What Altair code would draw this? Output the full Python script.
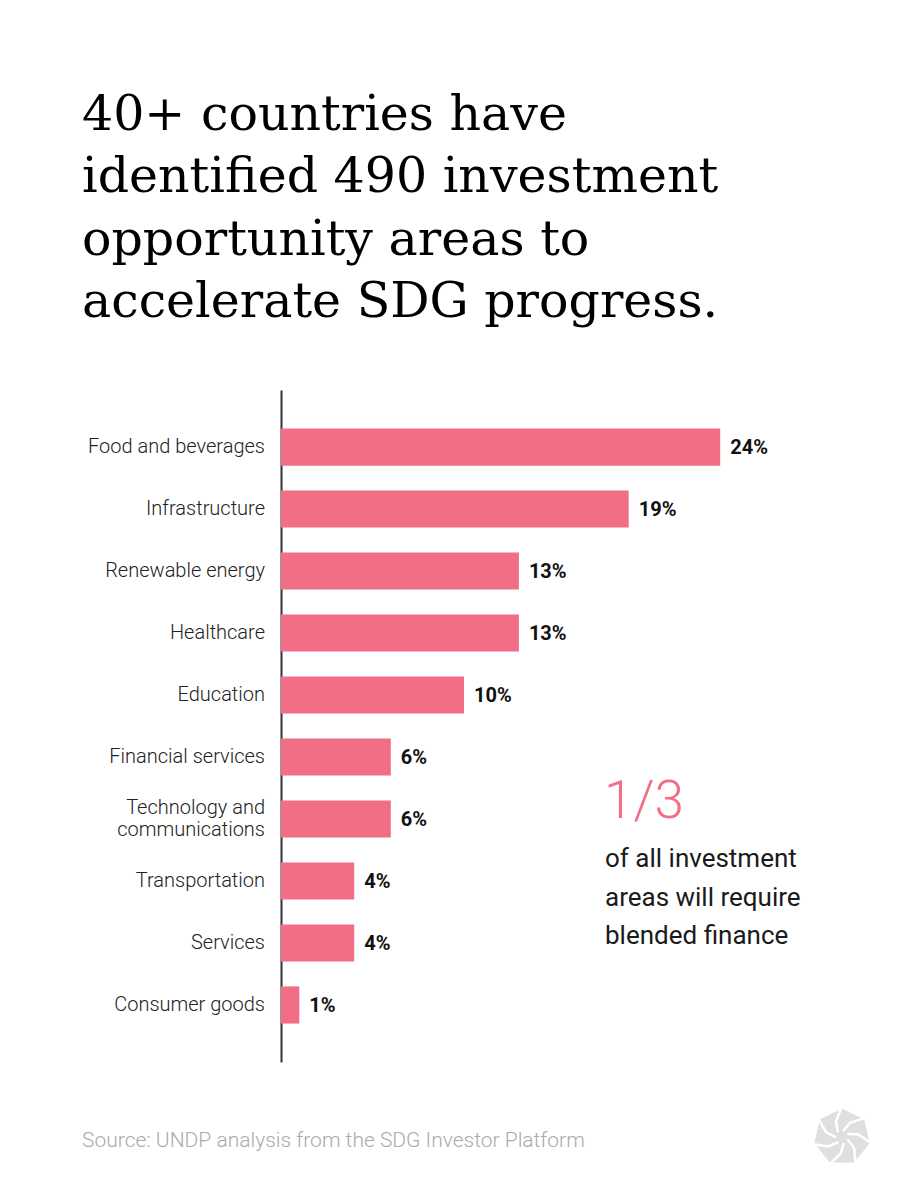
import math
import altair as alt
import pandas as pd

# Share of identified SDG investment opportunity areas, by sector (%)
sectors = [
    "Food and beverages",
    "Infrastructure",
    "Renewable energy",
    "Healthcare",
    "Education",
    "Financial services",
    "Technology and|communications",
    "Transportation",
    "Services",
    "Consumer goods",
]
shares = [24, 19, 13, 13, 10, 6, 6, 4, 4, 1]

title_lines = [
    "40+ countries have",
    "identified 490 investment",
    "opportunity areas to",
    "accelerate SDG progress.",
]
callout_value = "1/3"
callout_lines = ["of all investment", "areas will require", "blended finance"]
source_note = "Source: UNDP analysis from the SDG Investor Platform"

PINK = "#F26E86"
SANS = "Roboto"

df = pd.DataFrame({"sector": sectors, "share": shares})
df["label"] = df["share"].astype(str) + "%"
df["lines"] = df["sector"].str.count(r"\|") + 1

y_enc = alt.Y(
    "sector:N",
    sort=sectors,
    scale=alt.Scale(paddingInner=0.4, paddingOuter=0.62),
    axis=alt.Axis(
        title=None,
        ticks=False,
        labels=False,
        domainColor="#333333",
        domainWidth=2,
    ),
)
x_enc = alt.X("share:Q", scale=alt.Scale(domain=[0, 30]), axis=None)
y_plain = alt.Y("sector:N", sort=sectors)

bars = alt.Chart(df).mark_bar(color=PINK).encode(x=x_enc, y=y_enc)

values = alt.Chart(df).mark_text(
    align="left", baseline="middle", dx=10, dy=1, font=SANS, fontSize=20,
    fontWeight="bold", color="#111111",
).encode(x=x_enc, y=y_plain, text="label:N")

# Category labels, right-aligned against the axis line; wrapped names
# are shifted up by half a line so the block stays centred on the bar.
label_style = dict(
    align="right", baseline="middle", font=SANS, fontSize=20,
    fontWeight=300, color="#222222", lineBreak="|", lineHeight=22,
)
labels_single = alt.Chart(df).transform_filter("datum.lines == 1").mark_text(
    **label_style
).encode(x=alt.value(-16), y=y_plain, text="sector:N")
labels_double = alt.Chart(df).transform_filter("datum.lines == 2").mark_text(
    dy=-11, **label_style
).encode(x=alt.value(-16), y=y_plain, text="sector:N")

callout_big = alt.Chart(pd.DataFrame({"t": [callout_value]})).mark_text(
    align="left", baseline="alphabetic", font=SANS, fontSize=53,
    fontWeight=300, color=PINK,
).encode(x=alt.value(323), y=alt.value(428), text="t:N")

callout_text = alt.Chart(
    pd.DataFrame({"t": ["\n".join(callout_lines)]})
).mark_text(
    align="left", baseline="alphabetic", font=SANS, fontSize=26,
    fontWeight="normal", color="#1a1a1a", lineBreak="\n", lineHeight=38.5,
).encode(x=alt.value(324), y=alt.value(477), text="t:N")

source = alt.Chart(pd.DataFrame({"t": [source_note]})).mark_text(
    align="left", baseline="alphabetic", font=SANS, fontSize=21,
    fontWeight=300, color="#aaaaaa",
).encode(x=alt.value(-199), y=alt.value(757), text="t:N")

# Pinwheel logo: grey heptagon cut by white gaps
def heptagon_path():
    pts = []
    for k in range(7):
        a = math.radians(-90 + k * 360 / 7)
        pts.append(f"{math.cos(a):.3f},{math.sin(a):.3f}")
    return "M" + " L".join(pts) + " Z"

def gap_path():
    segs = []
    for k in range(7):
        a0 = math.radians(-90 + k * 360 / 7 + 10)
        a1 = math.radians(-90 + k * 360 / 7 + 50)
        r0, rm = 0.22, 0.6
        am = (a0 + a1) / 2
        segs.append(
            f"M{r0*math.cos(a0):.3f},{r0*math.sin(a0):.3f} "
            f"L{rm*math.cos(am):.3f},{rm*math.sin(am):.3f} "
            f"L{1.05*math.cos(a1):.3f},{1.05*math.sin(a1):.3f}"
        )
    return " ".join(segs)

logo_df = pd.DataFrame({"k": [0]})
logo_base = alt.Chart(logo_df).mark_point(
    shape=heptagon_path(), size=3100, filled=True, fill="#dedfe1",
    stroke="#dedfe1", strokeWidth=1, opacity=1,
).encode(x=alt.value(561), y=alt.value(747))
logo_gaps = alt.Chart(logo_df).mark_point(
    shape=gap_path(), size=3100, filled=False, stroke="white",
    strokeWidth=2.5, opacity=1,
).encode(x=alt.value(561), y=alt.value(747))

chart = alt.layer(
    bars, values, labels_single, labels_double,
    callout_big, callout_text, source, logo_base, logo_gaps,
).properties(
    width=549,
    height=672,
    autosize=alt.AutoSizeParams(type="none"),
    padding={"left": 281, "top": 390, "right": 76, "bottom": 138},
    background="white",
    title=alt.TitleParams(
        text=title_lines,
        font="DejaVu Serif",
        fontSize=49,
        fontWeight="normal",
        color="#000000",
        lineHeight=62.5,
        anchor="start",
        frame="group",
        baseline="alphabetic",
        dx=-199,
        offset=24,
    ),
).configure_view(stroke=None)

chart.save("out.html", embed_options={"renderer": "svg", "actions": False})
